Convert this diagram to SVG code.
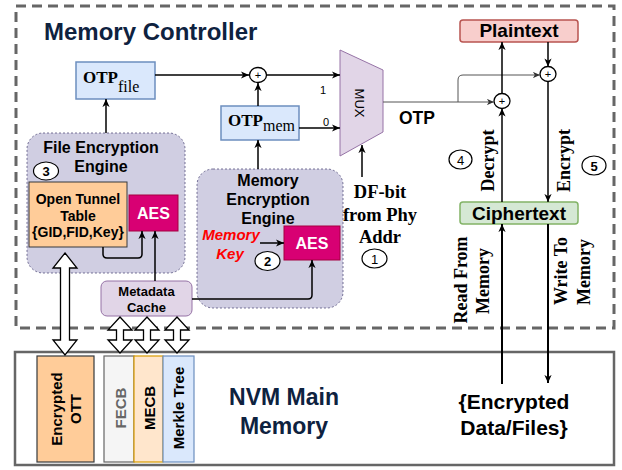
<svg xmlns="http://www.w3.org/2000/svg" width="622" height="470" viewBox="0 0 622 470">
  <style>
    .sans { font-family: "Liberation Sans", Arial, sans-serif; }
    .serif { font-family: "Liberation Serif", "Times New Roman", serif; }
    .b { font-weight: bold; }
    .title { font-family: "Liberation Sans", Arial, sans-serif; font-weight: bold; fill: #0e223f; }
    .wire { fill: none; stroke: #000; stroke-width: 1.5; }
    .thin { fill: none; stroke: #555; stroke-width: 1; }
    .thick { fill: none; stroke: #000; stroke-width: 2; }
    .xor { fill: #fff; stroke: #000; stroke-width: 1.3; }
    .num { fill: #fff; stroke: #000; stroke-width: 1.2; }
    .engine { fill: #d0cee2; stroke: #56517e; stroke-width: 0.8; stroke-dasharray: 2 2; }
    .otp { fill: #dae8fc; stroke: #6c8ebf; stroke-width: 1.5; }
    .aes { fill: #d80073; stroke: #a50040; stroke-width: 1; }
    .flex { fill: #fff; stroke: #000; stroke-width: 1.3; stroke-linejoin: miter; }
    .c { text-anchor: middle; }
  </style>
  <defs>
    <marker id="arr" viewBox="0 0 10 8" markerWidth="9" markerHeight="7.2" refX="9" refY="4" orient="auto" markerUnits="userSpaceOnUse">
      <path d="M0,0 L9,4 L0,8 L2.5,4 z" fill="#000"/>
    </marker>
    <marker id="arrg" viewBox="0 0 10 8" markerWidth="8" markerHeight="6.4" refX="9" refY="4" orient="auto" markerUnits="userSpaceOnUse">
      <path d="M0,0 L9,4 L0,8 L2.5,4 z" fill="#333"/>
    </marker>
  </defs>

  <!-- Memory controller boundary -->
  <g id="memory-controller">
    <rect x="16" y="6" width="598" height="322" fill="#fff" stroke="#666" stroke-width="3" stroke-dasharray="10 6"/>
    <text class="title" x="44" y="40" font-size="24">Memory Controller</text>
  </g>

  <!-- NVM main memory -->
  <g id="nvm">
    <rect x="15" y="352" width="599" height="113" fill="#fff" stroke="#666" stroke-width="2.5"/>
    <text class="title c" x="284" y="405" font-size="23">NVM Main</text>
    <text class="title c" x="284" y="434" font-size="23">Memory</text>
    <text class="sans b c" x="514" y="409" font-size="21">{Encrypted</text>
    <text class="sans b c" x="514" y="435" font-size="21">Data/Files}</text>
  </g>

  <g id="encrypted-ott">
    <rect x="37" y="356" width="57" height="106" fill="#ffcc99" stroke="#36393d" stroke-width="1.2"/>
    <text class="sans b c" font-size="15" transform="translate(62,409) rotate(-90)">Encrypted</text>
    <text class="sans b c" font-size="15" transform="translate(81,409) rotate(-90)">OTT</text>
  </g>
  <g id="fecb">
    <rect x="104" y="356" width="30" height="106" fill="#f5f5f5" stroke="#666" stroke-width="1.2"/>
    <text class="sans b c" font-size="15" fill="#666" transform="translate(126,408) rotate(-90)">FECB</text>
  </g>
  <g id="mecb">
    <rect x="134" y="356" width="29" height="106" fill="#ffe6cc" stroke="#d79b00" stroke-width="1.2"/>
    <text class="sans b c" font-size="15" transform="translate(155,408) rotate(-90)">MECB</text>
  </g>
  <g id="merkle-tree">
    <rect x="163" y="356" width="31" height="106" fill="#dae8fc" stroke="#6c8ebf" stroke-width="1.2"/>
    <text class="sans b c" font-size="15" transform="translate(184,408) rotate(-90)">Merkle Tree</text>
  </g>

  <!-- File encryption engine -->
  <g id="file-engine">
    <rect class="engine" x="27" y="133" width="158" height="140" rx="16"/>
    <text class="sans b c" x="101" y="153" font-size="16">File Encryption</text>
    <text class="sans b c" x="101" y="172" font-size="16">Engine</text>
  </g>
  <g id="open-tunnel-table">
    <rect x="29" y="182" width="98" height="65" fill="#ffcc99" stroke="#36393d" stroke-width="1"/>
    <text class="sans b c" x="78" y="204" font-size="14">Open Tunnel</text>
    <text class="sans b c" x="78" y="221" font-size="14">Table</text>
    <text class="sans b c" x="78" y="237" font-size="14">{GID,FID,Key}</text>
  </g>
  <g id="num-3">
    <ellipse class="num" cx="46" cy="171" rx="12.5" ry="9"/>
    <text class="sans b c" x="46" y="176" font-size="13">3</text>
  </g>
  <g id="aes-file">
    <rect class="aes" x="129" y="195" width="49" height="36"/>
    <text class="sans b c" x="153.5" y="219" font-size="16" fill="#fff">AES</text>
  </g>

  <!-- Memory encryption engine -->
  <g id="memory-engine">
    <rect class="engine" x="197" y="169" width="146" height="139" rx="16"/>
    <text class="sans b c" x="268" y="186" font-size="16">Memory</text>
    <text class="sans b c" x="268" y="205" font-size="16">Encryption</text>
    <text class="sans b c" x="268" y="224" font-size="16">Engine</text>
  </g>
  <g id="memory-key">
    <text class="sans b c" x="231" y="240" font-size="15" font-style="italic" fill="#ff0000">Memory</text>
    <text class="sans b c" x="230" y="259" font-size="15" font-style="italic" fill="#ff0000">Key</text>
  </g>
  <g id="num-2">
    <ellipse class="num" cx="267.5" cy="261" rx="12.5" ry="9.5"/>
    <text class="sans b c" x="267.5" y="266" font-size="13">2</text>
  </g>
  <g id="aes-mem">
    <rect class="aes" x="284" y="226" width="56" height="34"/>
    <text class="sans b c" x="312" y="249" font-size="16" fill="#fff">AES</text>
  </g>

  <g id="metadata-cache">
    <rect x="101" y="281" width="91" height="35" rx="6" fill="#e1d5e7" stroke="#9673a6" stroke-width="1"/>
    <text class="sans b c" x="146.5" y="296" font-size="13">Metadata</text>
    <text class="sans b c" x="146.5" y="312" font-size="13">Cache</text>
  </g>

  <!-- OTP registers -->
  <g id="otp-file">
    <rect class="otp" x="76" y="62" width="79" height="37"/>
    <text class="serif" x="83" y="83"><tspan class="b" font-size="17">OTP</tspan><tspan font-size="16" dy="9">file</tspan></text>
  </g>
  <g id="otp-mem">
    <rect class="otp" x="221" y="106" width="78" height="34"/>
    <text class="serif" x="228" y="126"><tspan class="b" font-size="17">OTP</tspan><tspan font-size="16" dy="5">mem</tspan></text>
  </g>

  <g id="mux">
    <polygon points="340,50 383,70 383,132 340,156" fill="#e1d5e7" stroke="#9673a6" stroke-width="1"/>
    <text class="sans c" font-size="13" transform="translate(355,103) rotate(90)">MUX</text>
  </g>

  <g id="xor-a">
    <ellipse class="xor" cx="258" cy="75" rx="8.5" ry="7.5"/>
    <text class="sans c" x="258" y="79" font-size="11">+</text>
  </g>
  <g id="xor-b">
    <ellipse class="xor" cx="502" cy="101" rx="8" ry="7.5"/>
    <text class="sans c" x="502" y="105" font-size="11">+</text>
  </g>
  <g id="xor-c">
    <ellipse class="xor" cx="548" cy="74" rx="8" ry="7.5"/>
    <text class="sans c" x="548" y="78" font-size="11">+</text>
  </g>

  <g id="plaintext">
    <rect x="460" y="20" width="118" height="22" rx="3" fill="#f8cecc" stroke="#b85450" stroke-width="1.5"/>
    <text class="sans b c" x="519" y="37" font-size="19">Plaintext</text>
  </g>
  <g id="ciphertext">
    <rect x="460" y="202" width="118" height="22" rx="3" fill="#d5e8d4" stroke="#82b366" stroke-width="1.5"/>
    <text class="sans b c" x="519" y="220" font-size="19">Ciphertext</text>
  </g>

  <g id="df-bit">
    <text class="serif b c" x="380" y="198" font-size="18.5">DF-bit</text>
    <text class="serif b c" x="380" y="221" font-size="18.5">from Phy</text>
    <text class="serif b c" x="380" y="243" font-size="18.5">Addr</text>
  </g>
  <g id="num-1">
    <ellipse class="num" cx="374.5" cy="258.5" rx="12.5" ry="9.5"/>
    <text class="sans c" x="374.5" y="263.5" font-size="13">1</text>
  </g>
  <g id="num-4">
    <ellipse class="num" cx="460.5" cy="159.5" rx="11.5" ry="9.5"/>
    <text class="sans c" x="460.5" y="164.5" font-size="13">4</text>
  </g>
  <g id="num-5">
    <ellipse class="num" cx="594" cy="165.5" rx="12" ry="9.5"/>
    <text class="sans b c" x="594" y="170.5" font-size="13">5</text>
  </g>

  <!-- Connectors -->
  <g id="connectors">
    <path class="wire" d="M155,75 H249" marker-end="url(#arr)"/>
    <path class="wire" d="M258,106 V83" marker-end="url(#arr)"/>
    <path class="wire" d="M266.5,75 H340" marker-end="url(#arr)"/>
    <path class="wire" d="M299,128 H340" marker-end="url(#arr)"/>
    <path class="wire" d="M258,169 V140" marker-end="url(#arr)"/>
    <path class="wire" d="M106,133 V99" marker-end="url(#arr)"/>
    <path class="wire" d="M362,177 V145" marker-end="url(#arr)"/>
    <path class="thin" d="M383,102 H494" marker-end="url(#arrg)"/>
    <path class="thin" d="M458,102 V80 Q458,75 463,75 H540" marker-end="url(#arrg)"/>
    <path class="wire" d="M502,93.5 V42" marker-end="url(#arr)"/>
    <path class="wire" d="M548,42 V66.5" marker-end="url(#arr)"/>
    <path class="wire" d="M502,202 V108.5" marker-end="url(#arr)"/>
    <path class="wire" d="M548,81.5 V202" marker-end="url(#arr)"/>
    <path class="thick" d="M502,384 V224" marker-end="url(#arr)"/>
    <path class="thick" d="M548,224 V383" marker-end="url(#arr)"/>
    <path class="wire" d="M103,247 V254 Q103,258 107,258 H138 Q142,258 142,254 V231" marker-end="url(#arr)"/>
    <path class="wire" d="M155,281 V231" marker-end="url(#arr)"/>
    <path class="wire" d="M192,299 H308 Q312,299 312,295 V260" marker-end="url(#arr)"/>
    <path class="wire" d="M260,243 H284" stroke-width="1" marker-end="url(#arr)"/>
    <!-- hollow double-headed transfer arrows -->
    <polygon class="flex" points="65,253 77,268 69.5,268 69.5,340 77,340 65,355 53,340 60.5,340 60.5,268 53,268"/>
    <polygon class="flex" points="120,317 132,330 123.5,330 123.5,340 132,340 120,353 108,340 116.5,340 116.5,330 108,330"/>
    <polygon class="flex" points="147,317 159,330 150.5,330 150.5,340 159,340 147,353 135,340 143.5,340 143.5,330 135,330"/>
    <polygon class="flex" points="177,317 189,330 180.5,330 180.5,340 189,340 177,353 165,340 173.5,340 173.5,330 165,330"/>
    <!-- connector labels -->
    <text class="sans c" x="323" y="94" font-size="11">1</text>
    <text class="sans c" x="326" y="126" font-size="11">0</text>
    <text class="sans b c" x="417" y="124" font-size="17.5">OTP</text>
    <text class="serif b c" font-size="18" transform="translate(494,160.5) rotate(-90)">Decrypt</text>
    <text class="serif b c" font-size="18" transform="translate(570,160.5) rotate(-90)">Encrypt</text>
    <text class="serif b c" font-size="18" transform="translate(467,280) rotate(-90)">Read From</text>
    <text class="serif b c" font-size="18" transform="translate(489,281) rotate(-90)">Memory</text>
    <text class="serif b c" font-size="18" transform="translate(567,271) rotate(-90)">Write To</text>
    <text class="serif b c" font-size="18" transform="translate(590,272) rotate(-90)">Memory</text>
  </g>
</svg>
